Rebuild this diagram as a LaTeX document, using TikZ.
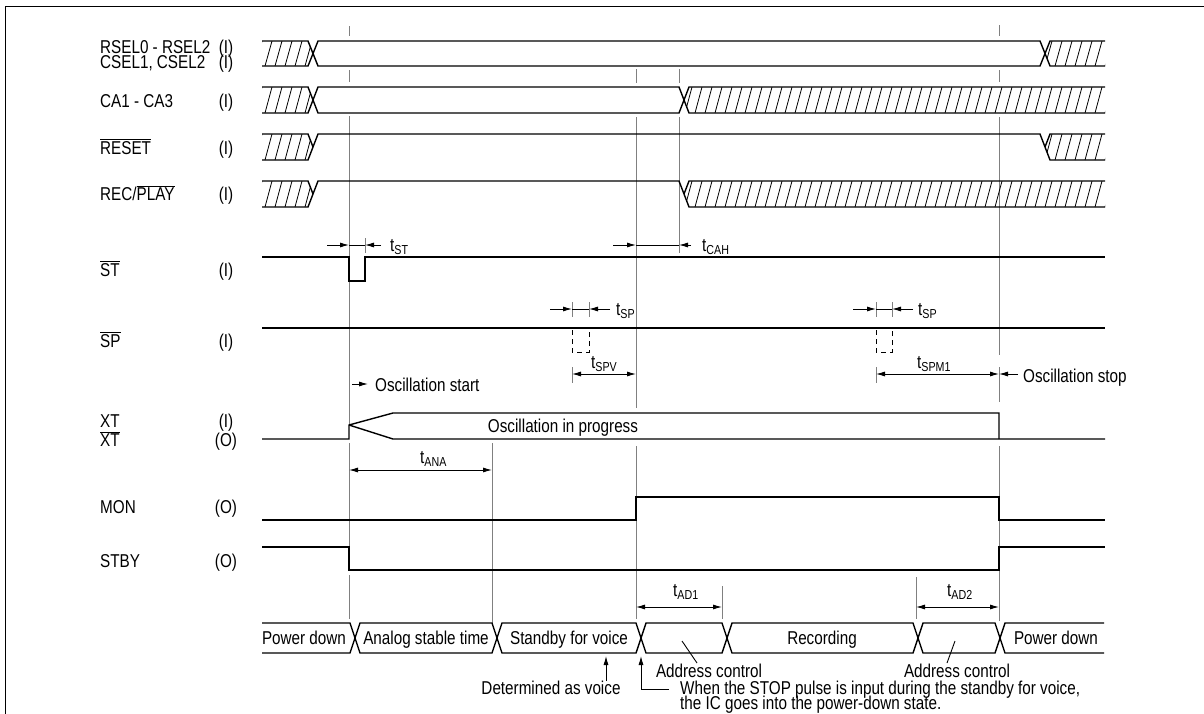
\documentclass[tikz,border=0pt]{standalone}
\usepackage{fontspec}
\setmainfont[FakeStretch=0.82]{Liberation Sans}
\usetikzlibrary{arrows.meta}
\newcommand\ovl[1]{$\overline{\mbox{#1}}$}
\newcommand\tsub[1]{t\textsubscript{#1}}
\newcommand\tightfont{\fontsize{18.6}{15}\selectfont\lineskiplimit=-100pt\relax\lineskip=0pt\relax}
\newcommand\tightfontb{\fontsize{18.6}{19}\selectfont\lineskiplimit=-100pt\relax\lineskip=0pt\relax}
\newcommand\hatchin[3]{%
  \begin{scope}
    \clip #1;
    \foreach \k in {0,...,88} \draw[hatchline] (255+10*\k,#3) -- (262+10*\k,#2);
  \end{scope}}
\begin{document}
\begin{tikzpicture}[x=1pt,y=-1pt,
  every node/.style={font=\fontsize{18.6}{21}\selectfont, inner sep=0pt},
  tight/.style={align=left, font=\tightfont},
  sig/.style={line width=1.4pt, line join=miter},
  guide/.style={line width=1pt, draw=black!50},
  hatchline/.style={line width=0.8pt},
  dimline/.style={line width=0.9pt},
  both/.style={dimline, {Latex[length=9pt,width=5pt]}-{Latex[length=9pt,width=5pt]}},
  toend/.style={dimline, -{Latex[length=9pt,width=5pt]}},
  lab/.style={anchor=base west},
  io/.style={anchor=base},
  dashpulse/.style={line width=1pt, dash pattern=on 5pt off 4pt}]
\useasboundingbox (0,0) rectangle (1204,713);
% frame
\draw[line width=1.4pt] (5.5,720) -- (5.5,6.5) -- (1210,6.5);

% ---------- guide lines ----------
\draw[guide] (349,26)--(349,36) (349,70)--(349,82) (349,116)--(349,425) (349,443)--(349,547) (349,575)--(349,619);
\draw[guide] (636,69)--(636,83) (636,117)--(636,408) (636,446)--(636,619);
\draw[guide] (679,69)--(679,83) (679,117)--(679,253);
\draw[guide] (492,443)--(492,623);
\draw[guide] (999,25)--(999,36) (999,70)--(999,82) (999,117)--(999,355) (999,367)--(999,402) (999,446)--(999,621);
\draw[guide] (365,238)--(365,253);
\draw[guide] (572,302)--(572,317) (589,302)--(589,317);
\draw[guide] (876,302)--(876,317) (892,302)--(892,317);
\draw[guide] (572,367)--(572,383) (876,367)--(876,383);
\draw[guide] (722,586)--(722,619) (916,577)--(916,619);

% ---------- labels ----------
\node[tight, anchor=north west] (lrsel) at (100,40.5) {RSEL0 - RSEL2\\CSEL1, CSEL2};
\node[tight, anchor=north, align=center] (d1) at (226,40) {(I)\\(I)};
\node[lab] (lca) at (100,107) {CA1 - CA3};
\node[lab] (lrst) at (100,154) {\ovl{RESET}};
\node[lab] (lrec) at (100,200) {REC/\ovl{PLAY}};
\node[lab] (lst) at (100,276) {\ovl{ST}};
\node[lab] (lsp) at (100,347) {\ovl{SP}};
\node[lab] (lxt) at (100,427) {XT};
\node[lab] (lxtb) at (100,446) {\ovl{XT}};
\node[lab] (lmon) at (100,513) {MON};
\node[lab] (lstby) at (100,567) {STBY};
\node[io] (d3) at (226,107) {(I)};
\node[io] (d4) at (226,154) {(I)};
\node[io] (d5) at (226,200) {(I)};
\node[io] (d6) at (226,276) {(I)};
\node[io] (d7) at (226,347) {(I)};
\node[tight, anchor=north, align=center, font=\tightfontb] (d8) at (226,413.4) {(I)\\(O)};
\node[io] (d10) at (226,513) {(O)};
\node[io] (d11) at (226,567) {(O)};

% ---------- RSEL / CSEL ----------
\hatchin{(262,41)--(308,41)--(313,53.5)--(308,66)--(262,66)--cycle}{41}{66}
\draw[sig] (262,41)--(308,41)--(318,66)--(1040,66)--(1050,41)--(1105,41);
\draw[sig] (262,66)--(308,66)--(318,41)--(1040,41)--(1050,66)--(1105,66);
\hatchin{(1045,53.5)--(1050,41)--(1105,41)--(1105,66)--(1050,66)--cycle}{41}{66}

% ---------- CA ----------
\hatchin{(262,87)--(308,87)--(313,100)--(308,113)--(262,113)--cycle}{87}{113}
\draw[sig] (262,87)--(308,87)--(318,113)--(679,113)--(689,87)--(1105,87);
\draw[sig] (262,113)--(308,113)--(318,87)--(679,87)--(689,113)--(1105,113);
\hatchin{(684,100)--(689,87)--(1105,87)--(1105,113)--(689,113)--cycle}{87}{113}

% ---------- RESET ----------
\hatchin{(262,134)--(308,134)--(313,147)--(308,160)--(262,160)--cycle}{134}{160}
\draw[sig] (262,134)--(308,134)--(313,147);
\draw[sig] (262,160)--(308,160)--(318,134)--(1040,134)--(1050,160)--(1105,160);
\draw[sig] (1045,147)--(1050,134)--(1105,134);
\hatchin{(1045,147)--(1050,134)--(1105,134)--(1105,160)--(1050,160)--cycle}{134}{160}

% ---------- REC/PLAY ----------
\hatchin{(262,181)--(308,181)--(313,194)--(308,207)--(262,207)--cycle}{181}{207}
\draw[sig] (262,181)--(308,181)--(313,194);
\draw[sig] (262,207)--(308,207)--(318,181)--(679,181)--(689,207)--(1105,207);
\draw[sig] (684,194)--(689,181)--(1105,181);
\hatchin{(684,194)--(689,181)--(1105,181)--(1105,207)--(689,207)--cycle}{181}{207}

% ---------- ST ----------
\draw[sig] (262,257)--(349,257)--(349,281)--(365,281)--(365,257)--(1105,257);
% ---------- SP ----------
\draw[sig] (262,328)--(1105,328);
\draw[dashpulse] (572,330)--(572,352)--(589,352)--(589,330);
\draw[dashpulse] (876,330)--(876,352)--(892,352)--(892,330);
% ---------- XT ----------
\draw[sig] (262,439)--(349,439)--(349,425)--(393,413)--(999,413)--(999,439);
\draw[sig] (349,425)--(393,439)--(1105,439);
% ---------- MON ----------
\draw[sig] (262,520)--(636,520)--(636,497)--(999,497)--(999,520)--(1105,520);
% ---------- STBY ----------
\draw[sig] (262,547)--(349,547)--(349,570)--(999,570)--(999,547)--(1105,547);

% ---------- state bus ----------
\draw[sig] (262,623)--(350,623)--(360,653)--(492,653)--(502,623)--(636,623)--(646,653)--(722,653)--(732,623)--(913,623)--(923,653)--(995,653)--(1005,623)--(1104,623);
\draw[sig] (262,653)--(350,653)--(360,623)--(492,623)--(502,653)--(636,653)--(646,623)--(722,623)--(732,653)--(913,653)--(923,623)--(995,623)--(1005,653)--(1104,653);
\node[io] (s1) at (304,644.5) {Power down};
\node[io] (s2) at (426,644.5) {Analog stable time};
\node[io] (s3) at (569,644.5) {Standby for voice};
\node[io] (s4) at (822,644.5) {Recording};
\node[io] (s5) at (1056,644.5) {Power down};

% ---------- timing arrows ----------
\draw[toend] (327,245)--(349,245); \draw[dimline] (349,245)--(365,245); \draw[toend] (381,245)--(365,245);
\node[lab] (tst) at (390,251) {\tsub{ST}};
\draw[toend] (613,245)--(636,245); \draw[dimline] (636,245)--(679,245); \draw[toend] (691,245)--(679,245);
\node[lab] (tcah) at (702,251) {\tsub{CAH}};
\draw[toend] (550,309)--(572,309); \draw[dimline] (572,309)--(589,309); \draw[toend] (610,309)--(589,309);
\node[lab] (tsp1) at (616,315) {\tsub{SP}};
\draw[toend] (853,309)--(876,309); \draw[dimline] (876,309)--(892,309); \draw[toend] (913,309)--(892,309);
\node[lab] (tsp2) at (918,315) {\tsub{SP}};
\draw[both] (572,374)--(636,374);
\node[lab] (tspv) at (591,368) {\tsub{SPV}};
\draw[both] (876,374)--(999,374);
\node[lab] (tspm) at (917,368) {\tsub{SPM1}};
\draw[toend] (1018,374)--(999,374);
\node[lab] (ostop) at (1023,382) {Oscillation stop};
\draw[toend] (352,384)--(368,384);
\node[lab] (ostart) at (375,391) {Oscillation start};
\node[io] (oprog) at (563,432.5) {Oscillation in progress};
\draw[both] (349,470)--(492,470);
\node[lab] (tana) at (420,463) {\tsub{ANA}};
\draw[both] (636,607)--(722,607);
\node[lab] (tad1) at (673,596) {\tsub{AD1}};
\draw[both] (916,607)--(999,607);
\node[lab] (tad2) at (947,596) {\tsub{AD2}};

% ---------- bottom notes ----------
\node[io] (ac1) at (709,677) {Address control};
\node[io] (ac2) at (957,677) {Address control};
\draw[dimline] (682,641)--(697,663);
\draw[dimline] (955,641)--(947,663);
\node[io] (det) at (551,694) {Determined as voice};
\draw[toend] (606,681)--(606,656);
\draw[dimline,-{Latex[length=9pt,width=5pt]}] (669,689)--(641,689)--(641,656);
\node[tight, anchor=north west] (stop1) at (680,680.8) {When the STOP pulse is input during the standby for voice,\\the IC goes into the power-down state.};
\end{tikzpicture}
\end{document}
